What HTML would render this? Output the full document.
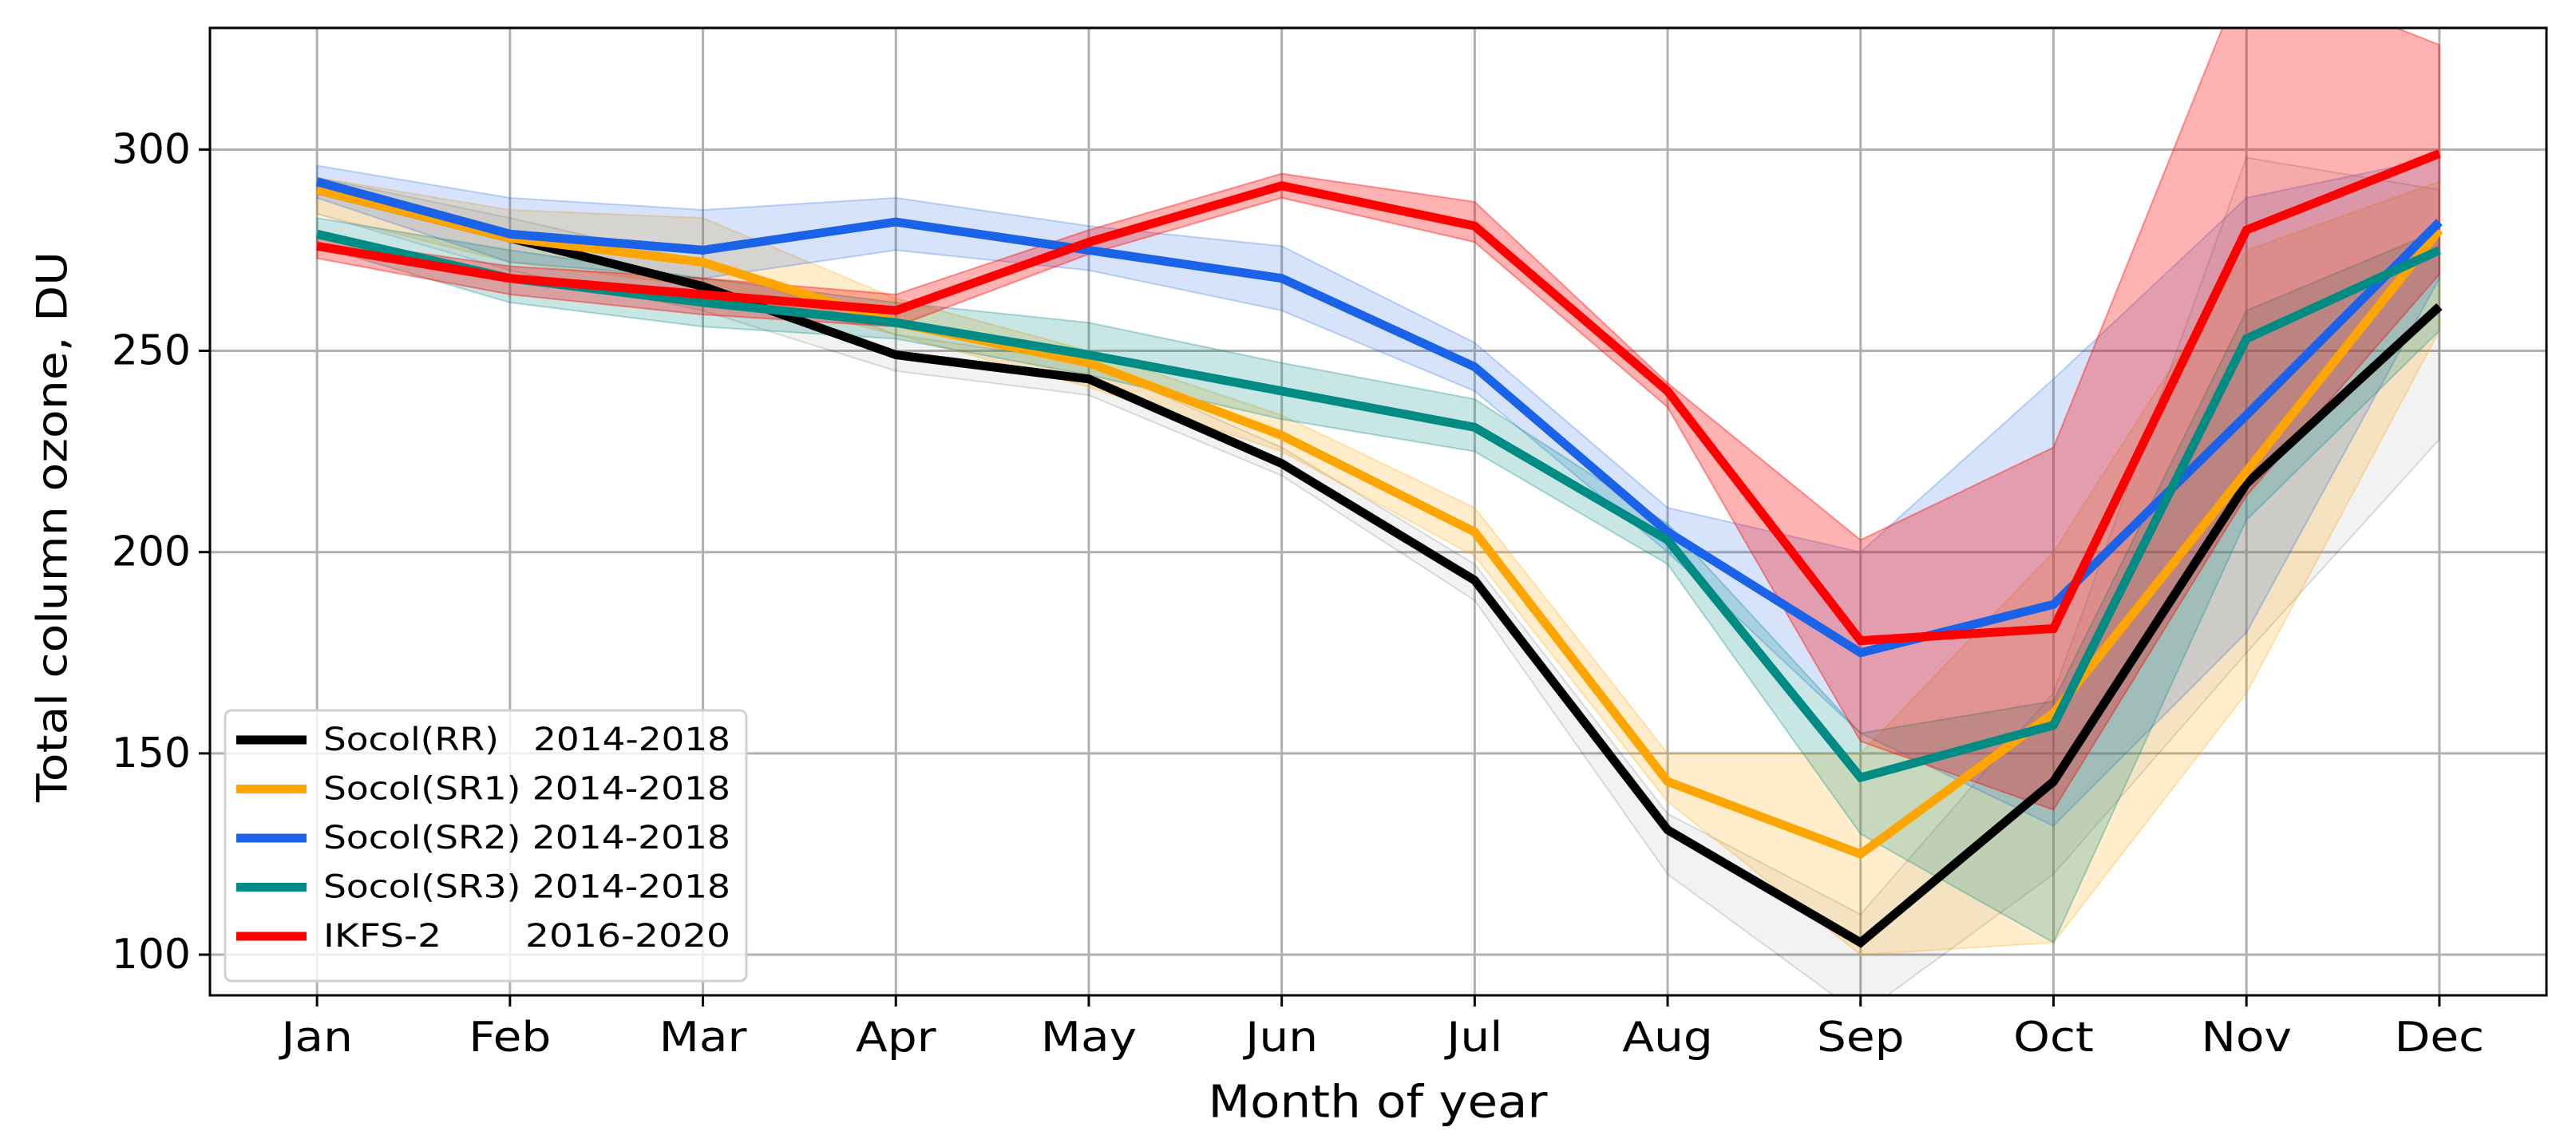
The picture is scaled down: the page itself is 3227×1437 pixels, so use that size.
<!DOCTYPE html>
<html><head><meta charset="utf-8"><style>
html,body{margin:0;padding:0;background:#fff}
svg{display:block;font-family:"DejaVu Sans","Liberation Sans",sans-serif}
</style></head><body>
<svg id="chart" width="3227" height="1437" viewBox="0 0 3227 1437" xmlns="http://www.w3.org/2000/svg">
<defs><clipPath id="plotclip"><rect x="263" y="35" width="2927" height="1212"/></clipPath></defs>
<rect x="0" y="0" width="3227" height="1437" fill="#fff"/>
<g id="grid"></g>
<g id="bands" clip-path="url(#plotclip)"></g>
<g id="lines" clip-path="url(#plotclip)"></g>
<rect x="263" y="35" width="2927" height="1212" fill="none" stroke="#000" stroke-width="3"/>
<g id="ticks"></g>
<text x="66" y="660" transform="rotate(-90 66 660)" text-anchor="middle" dominant-baseline="central" font-size="53" textLength="690" lengthAdjust="spacingAndGlyphs">Total column ozone, DU</text>
<text x="1726" y="1381" text-anchor="middle" dominant-baseline="central" font-size="56" textLength="425" lengthAdjust="spacingAndGlyphs">Month of year</text>
<g id="legend"></g>
</svg>
<script>
const months = ["Jan","Feb","Mar","Apr","May","Jun","Jul","Aug","Sep","Oct","Nov","Dec"];
const yTicks = [100,150,200,250,300];
const seriesNames = ["Socol(RR)   2014-2018","Socol(SR1) 2014-2018","Socol(SR2) 2014-2018","Socol(SR3) 2014-2018","IKFS-2       2016-2020"];
const seriesColors = ["#000000","#ffa500","#1a62e8","#008b84","#ff0000"];
const bandAlpha = [0.05,0.2,0.18,0.22,0.3];
const rrMean = [290,278,266,249,243,222,193,131,103,143,217,261];
const rrLow  = [284,270,260,245,239,219,188,120,85,120,175,228];
const rrHigh = [293,283,272,254,247,226,197,135,110,165,298,290];
const sr1Mean = [290,278,272,257,247,229,205,143,125,160,220,280];
const sr1Low  = [284,272,266,254,241,225,199,138,100,103,165,255];
const sr1High = [293,285,283,263,250,234,211,150,150,200,275,292];
const sr2Mean = [292,279,275,282,275,268,246,205,175,187,234,282];
const sr2Low  = [288,272,268,275,270,260,240,200,155,132,180,268];
const sr2High = [296,288,285,288,281,276,252,211,200,243,288,298];
const sr3Mean = [279,268,262,257,249,240,231,203,144,157,253,275];
const sr3Low  = [276,262,256,253,244,233,225,197,130,103,208,255];
const sr3High = [283,275,268,262,257,247,238,207,155,163,260,280];
const ikfsMean = [276,268,264,260,277,291,281,240,178,181,280,299];
const ikfsLow  = [273,264,259,256,274,288,277,236,153,136,214,269];
const ikfsHigh = [278,271,268,264,280,294,287,242,203,226,345,326];

const means=[rrMean,sr1Mean,sr2Mean,sr3Mean,ikfsMean];
const lows=[rrLow,sr1Low,sr2Low,sr3Low,ikfsLow];
const highs=[rrHigh,sr1High,sr2High,sr3High,ikfsHigh];
const NS="http://www.w3.org/2000/svg";
const X0=263,X1=3190,Y0=35,Y1=1247,xmin=-0.555,xmax=11.555,ymin=89.9,ymax=330.2;
function xs(i){return X0+(i-xmin)/(xmax-xmin)*(X1-X0);}
function ys(v){return Y1-(v-ymin)/(ymax-ymin)*(Y1-Y0);}
function mk(tag,attrs,parent){const e=document.createElementNS(NS,tag);for(const k in attrs)e.setAttribute(k,attrs[k]);parent.appendChild(e);return e;}
const grid=document.getElementById('grid'),ticks=document.getElementById('ticks');
months.forEach((m,i)=>{
  const x=xs(i);
  const g=mk('line',{x1:x,x2:x,y1:Y0,y2:Y1,stroke:'#b0b0b0','stroke-width':3},grid);
  
  
  const t=mk('line',{x1:x,x2:x,y1:Y1,y2:Y1+14,stroke:'#000','stroke-width':3},ticks);
  
  
  const l=mk('text',{x:x,y:1300,'text-anchor':'middle','dominant-baseline':'central','font-size':52,transform:`translate(${x},0) scale(1.12,1) translate(${-x},0)`},ticks);
  l.textContent=m;
  
  
});
yTicks.forEach(v=>{
  const y=ys(v);
  const g=mk('line',{x1:X0,x2:X1,y1:y,y2:y,stroke:'#b0b0b0','stroke-width':3},grid);
  
  
  const t=mk('line',{x1:X0-14,x2:X0,y1:y,y2:y,stroke:'#000','stroke-width':3},ticks);
  
  
  const l=mk('text',{x:X0-24,y:y,'text-anchor':'end','dominant-baseline':'central','font-size':52},ticks);
  l.textContent=v;
  
  
});
const bands=document.getElementById('bands'),lines=document.getElementById('lines');
for(let s=0;s<5;s++){
  let pts=[];
  for(let i=0;i<12;i++)pts.push(xs(i)+','+ys(highs[s][i]));
  for(let i=11;i>=0;i--)pts.push(xs(i)+','+ys(lows[s][i]));
  const b=mk('polygon',{points:pts.join(' '),fill:seriesColors[s],'fill-opacity':bandAlpha[s],stroke:seriesColors[s],'stroke-opacity':bandAlpha[s]+0.08,'stroke-width':2},bands);
  
  
}
for(let s=0;s<5;s++){
  const pts=means[s].map((v,i)=>xs(i)+','+ys(v)).join(' ');
  const p=mk('polyline',{points:pts,fill:'none',stroke:seriesColors[s],'stroke-width':11,'stroke-linejoin':'miter'},lines);
  
  
}
const leg=document.getElementById('legend');
const box=mk('rect',{x:282,y:890,width:653,height:339,rx:8,fill:'#fff','fill-opacity':0.8,stroke:'#d0d0d0','stroke-width':3},leg);


seriesNames.forEach((n,s)=>{
  const y=927+s*61.5;
  const l=mk('line',{x1:296,x2:384,y1:y,y2:y,stroke:seriesColors[s],'stroke-width':11},leg);
  
  
  const t=mk('text',{x:405,y:y,'dominant-baseline':'central','font-size':40,textLength:510,lengthAdjust:'spacingAndGlyphs','xml:space':'preserve',style:'white-space:pre'},leg);
  t.textContent=n;
  
  
});
</script>
</body></html>
